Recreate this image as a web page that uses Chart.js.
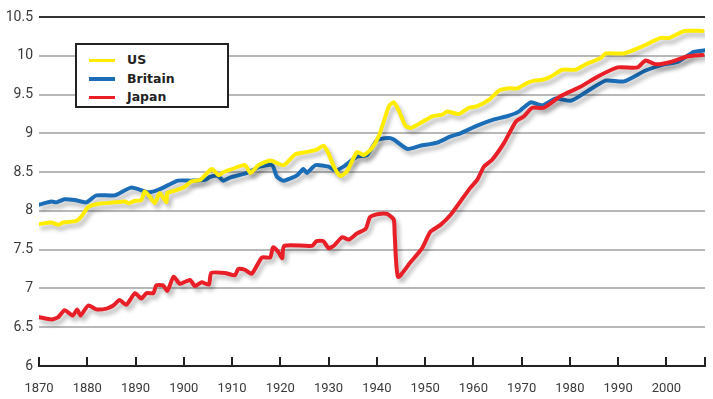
<!DOCTYPE html>
<html>
<head>
<meta charset="utf-8">
<script src="https://cdn.jsdelivr.net/npm/chart.js@4/dist/chart.umd.min.js"></script>
<style>
  html, body { margin: 0; padding: 0; background: #fff; }
  #wrap { position: relative; width: 713px; height: 399px; }
  #legend {
    position: absolute; left: 75px; top: 43px; width: 150px; height: 61px;
    border: 2px solid #222; background: #fff; box-sizing: content-box;
    font-family: "DejaVu Sans", sans-serif; font-weight: bold; font-size: 12.5px; color: #222;
  }
  #legend .row { position: absolute; left: 0; height: 18px; line-height: 18px; }
  #legend .sw { position: absolute; left: 12px; top: 7.5px; width: 26px; height: 3.5px; }
  #legend .lb { position: absolute; left: 50px; top: 0; white-space: nowrap; }
</style>
</head>
<body>
<div id="wrap">
  <canvas id="c" width="713" height="399"></canvas>
  <div id="legend"></div>
</div>
<script>
// ---- data ----
const seriesNames = ["US", "Britain", "Japan"];

const usYears = [1870, 1872.5, 1874, 1875, 1877.7, 1878.8, 1880.2, 1882.2, 1885.7, 1887.8, 1888.5, 1889.9, 1891.2, 1891.9, 1893, 1894, 1895, 1896.4, 1896.6, 1898.2, 1900.2, 1901.6, 1903.4, 1905.8, 1907.2, 1908.2, 1909.6, 1912.7, 1913.8, 1915.5, 1917.9, 1920.7, 1923.1, 1925.5, 1927.6, 1928.9, 1930, 1931.1, 1932.4, 1933.8, 1935.9, 1937.3, 1939, 1940.5, 1942.5, 1943.5, 1944.5, 1945.9, 1947, 1948.7, 1951.5, 1953.5, 1954.6, 1957, 1959.1, 1960.8, 1963.2, 1965.3, 1967.4, 1969.1, 1971.2, 1972.6, 1974.3, 1976, 1978.4, 1981.2, 1983.3, 1986.4, 1987.4, 1991.2, 1995, 1998.8, 2000.6, 2003.7, 2007.5];
const usValues = [7.83, 7.85, 7.82, 7.85, 7.87, 7.93, 8.05, 8.09, 8.11, 8.12, 8.10, 8.13, 8.14, 8.25, 8.18, 8.10, 8.23, 8.11, 8.23, 8.26, 8.31, 8.38, 8.40, 8.54, 8.46, 8.50, 8.53, 8.59, 8.49, 8.59, 8.65, 8.59, 8.73, 8.76, 8.79, 8.84, 8.74, 8.57, 8.45, 8.51, 8.76, 8.72, 8.81, 8.98, 9.35, 9.40, 9.30, 9.10, 9.07, 9.12, 9.22, 9.24, 9.28, 9.25, 9.33, 9.35, 9.43, 9.55, 9.58, 9.58, 9.65, 9.68, 9.69, 9.73, 9.82, 9.82, 9.89, 9.97, 10.03, 10.03, 10.12, 10.23, 10.23, 10.32, 10.32];

const britainYears = [1870, 1872.6, 1873.6, 1875.3, 1877.4, 1879.8, 1881.9, 1885.7, 1889.1, 1892.6, 1894.7, 1898.8, 1901.6, 1904.4, 1905.5, 1907.1, 1908.2, 1909.6, 1913.1, 1915.8, 1918.3, 1919.3, 1920.7, 1923.5, 1924.8, 1925.5, 1927.3, 1930, 1931.4, 1933.1, 1935.9, 1938, 1940, 1942.5, 1943.5, 1946.3, 1949, 1952.5, 1955.3, 1957.3, 1960.8, 1964.3, 1967, 1969.4, 1971.9, 1974.3, 1977.1, 1980.2, 1983.3, 1987.4, 1991.2, 1995.7, 1999.5, 2002.3, 2005.7, 2008];
const britainValues = [8.08, 8.12, 8.11, 8.15, 8.14, 8.11, 8.20, 8.20, 8.30, 8.24, 8.27, 8.39, 8.39, 8.40, 8.44, 8.45, 8.39, 8.43, 8.49, 8.57, 8.59, 8.44, 8.39, 8.46, 8.54, 8.49, 8.59, 8.57, 8.52, 8.57, 8.70, 8.72, 8.91, 8.94, 8.92, 8.80, 8.84, 8.88, 8.96, 9.00, 9.10, 9.18, 9.22, 9.28, 9.40, 9.36, 9.45, 9.42, 9.53, 9.68, 9.67, 9.81, 9.89, 9.92, 10.05, 10.07];

const japanYears = [1870, 1872.6, 1874, 1875.3, 1877, 1877.9, 1878.6, 1880.2, 1881.9, 1884, 1885.4, 1886.7, 1888.1, 1889.9, 1891.2, 1892.3, 1893.7, 1894.3, 1895.7, 1896.6, 1897.9, 1899.2, 1901.3, 1902.3, 1903.7, 1905.2, 1905.7, 1908.5, 1910.6, 1911.3, 1912.7, 1914.1, 1916.2, 1917.9, 1918.5, 1919.6, 1920.4, 1920.8, 1926.6, 1927.5, 1928.9, 1930, 1931.1, 1932.8, 1934.2, 1935.9, 1937.7, 1938.6, 1940.4, 1942.1, 1943.5, 1943.7, 1944.4, 1947, 1949.4, 1951.1, 1953.2, 1955.3, 1957.3, 1959.4, 1960.8, 1962.2, 1963.9, 1966.3, 1968.8, 1970.5, 1972.2, 1974.6, 1978.1, 1982.2, 1985.7, 1989.9, 1994, 1995.7, 1997.8, 2000.9, 2004.3, 2007.5];
const japanValues = [6.63, 6.60, 6.63, 6.72, 6.65, 6.73, 6.65, 6.78, 6.73, 6.74, 6.78, 6.85, 6.79, 6.94, 6.87, 6.94, 6.94, 7.04, 7.04, 6.97, 7.15, 7.06, 7.11, 7.03, 7.08, 7.05, 7.20, 7.20, 7.17, 7.25, 7.24, 7.19, 7.40, 7.40, 7.53, 7.47, 7.39, 7.55, 7.55, 7.61, 7.61, 7.52, 7.55, 7.66, 7.63, 7.71, 7.77, 7.92, 7.96, 7.96, 7.89, 7.70, 7.15, 7.34, 7.52, 7.73, 7.82, 7.95, 8.12, 8.30, 8.40, 8.57, 8.66, 8.87, 9.15, 9.22, 9.33, 9.33, 9.48, 9.60, 9.73, 9.85, 9.85, 9.94, 9.89, 9.92, 9.99, 10.01];

const xTickValues = [1870, 1880, 1890, 1900, 1910, 1920, 1930, 1940, 1950, 1960, 1970, 1980, 1990, 2000, 2008];
const xTickLabels = ["1870", "1880", "1890", "1900", "1910", "1920", "1930", "1940", "1950", "1960", "1970", "1980", "1990", "2000", ""];
const yTickValues = [6, 6.5, 7, 7.5, 8, 8.5, 9, 9.5, 10, 10.5];
const yTickLabels = ["6", "6.5", "7", "7.5", "8", "8.5", "9", "9.5", "10", "10.5"];
const yMin = 6, yMax = 10.5;

// ---- styling ----
const colors = { US: "#ffec00", Britain: "#1a6db6", Japan: "#e81f26" };

function pts(xs, ys) { return xs.map((x, i) => ({ x: x, y: ys[i] })); }

const legendEl = document.getElementById('legend');
seriesNames.forEach((n, i) => {
  const row = document.createElement('div');
  row.className = 'row';
  row.style.top = (6 + i * 18.5) + 'px';
  row.style.width = '150px';
  row.innerHTML = '<span class="sw" style="background:' + colors[n] + '"></span><span class="lb">' + n + '</span>';
  legendEl.appendChild(row);
});

const shadowPlugin = {
  id: 'shadow',
  beforeDatasetsDraw(chart) {
    const c = chart.ctx; c.save();
    c.shadowColor = 'rgba(0,0,0,0.28)'; c.shadowBlur = 4; c.shadowOffsetX = 3; c.shadowOffsetY = 4;
  },
  afterDatasetsDraw(chart) { chart.ctx.restore(); }
};

// upward tick marks on the x axis, placed by the x scale
const upTicks = {
  id: 'upTicks',
  afterDraw(chart) {
    const sx = chart.scales.x, c = chart.ctx, yb = chart.chartArea.bottom;
    c.save(); c.strokeStyle = '#222'; c.lineWidth = 2;
    xTickValues.forEach(v => {
      const px = Math.round(sx.getPixelForValue(v));
      c.beginPath(); c.moveTo(px, yb + 1); c.lineTo(px, yb - 9); c.stroke();
    });
    c.restore();
  }
};

const lineDs = (name, xs, ys, order) => ({
  label: name, data: pts(xs, ys), borderColor: colors[name], backgroundColor: colors[name],
  borderWidth: 4, pointRadius: 0, tension: 0.2, fill: false, order: order,
  borderJoinStyle: 'round', borderCapStyle: 'round'
});

new Chart(document.getElementById('c'), {
  type: 'line',
  data: {
    datasets: [
      lineDs('US', usYears, usValues, 2),
      lineDs('Britain', britainYears, britainValues, 3),
      lineDs('Japan', japanYears, japanValues, 1)
    ]
  },
  options: {
    responsive: false, animation: false, devicePixelRatio: 1,
    layout: { padding: { top: 17, right: 8, left: 0, bottom: 0 } },
    plugins: { legend: { display: false }, tooltip: { enabled: false } },
    scales: {
      x: {
        type: 'linear', min: 1870, max: 2008,
        afterBuildTicks(scale) { scale.ticks = xTickValues.map(v => ({ value: v })); },
        afterFit(scale) { scale.height = 33; scale.paddingLeft = 0; scale.paddingRight = 0; },
        border: { display: true, color: '#222', width: 2 },
        grid: { display: false },
        ticks: {
          autoSkip: false, maxRotation: 0, padding: 7, color: '#3a3a3a',
          font: { family: 'Roboto', size: 13 },
          callback(v) { const i = xTickValues.indexOf(v); return i >= 0 ? xTickLabels[i] : ''; }
        }
      },
      y: {
        min: yMin, max: yMax,
        afterBuildTicks(scale) { scale.ticks = yTickValues.map(v => ({ value: v })); },
        afterFit(scale) { scale.width = 39; },
        border: { display: false },
        grid: {
          drawTicks: false, lineWidth: 2,
          color(ctx) { const v = ctx.tick && ctx.tick.value; if (v === yMax) return '#333'; if (v === yMin) return 'rgba(0,0,0,0)'; return '#b8b8b8'; }
        },
        ticks: {
          padding: 6, color: '#3a3a3a', font: { family: 'Roboto', size: 14 },
          callback(v) { const i = yTickValues.indexOf(v); return i >= 0 ? yTickLabels[i] : ''; }
        }
      }
    }
  },
  plugins: [shadowPlugin, upTicks]
});
</script>
</body>
</html>
